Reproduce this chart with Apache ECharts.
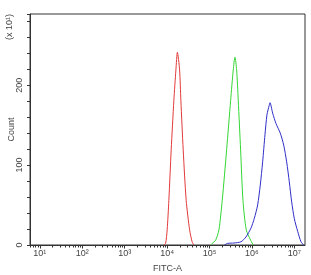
<!DOCTYPE html>
<html>
<head>
<meta charset="utf-8">
<script src="https://cdn.jsdelivr.net/npm/echarts@6/dist/echarts.min.js"></script>
<style>
  html, body { margin: 0; padding: 0; background: #fff; }
  #chart { width: 311px; height: 275px; }
</style>
</head>
<body>
<div id="chart"></div>
<script>
// x values are log10(FITC-A), y values are counts (x10)
const redX = [3.92, 3.965, 4.002, 4.042, 4.097, 4.160, 4.208, 4.243, 4.295, 4.325, 4.380, 4.450, 4.531, 4.59, 4.632];
const redY = [0, 2, 19, 56, 119, 181, 219, 241, 219, 181, 119, 56, 19, 4, 0];

const greenX = [5.04, 5.064, 5.144, 5.222, 5.300, 5.403, 5.498, 5.559, 5.599, 5.639, 5.677, 5.733, 5.788, 5.866, 5.969, 6.031];
const greenY = [0, 2, 6, 19, 56, 119, 181, 219, 235, 219, 181, 119, 56, 19, 6, 0];

const blueX = [5.35, 5.427, 5.575, 5.741, 5.858, 5.976, 6.054, 6.134, 6.196, 6.252, 6.307, 6.354, 6.408, 6.425,
    6.488, 6.566, 6.667, 6.748, 6.818, 6.880, 6.936, 6.998, 7.078, 7.156, 7.219];
const blueY = [0, 2, 2.5, 4, 10, 21, 33, 50, 75, 104, 138, 163, 175, 178,
    165, 152, 140, 125, 104, 79, 54, 33, 17, 4, 0];

const decades = [1, 2, 3, 4, 5, 6, 7];
const decadeLabels = ['10¹', '10²', '10³', '10⁴', '10⁵', '10⁶', '10⁷'];
const yLabels = [0, 100, 200];

const X_MIN = 0.77, X_MAX = 7.25;
const minorTicks = [];
for (let d = 0; d <= 7; d++) {
    for (let k = 2; k <= 9; k++) {
        const v = d + Math.log10(k);
        if (v > X_MIN && v < X_MAX) minorTicks.push(v);
    }
}

const pairs = (xs, ys) => xs.map((x, i) => [x, ys[i]]);

const txt = '#444';
const font = 'Liberation Sans, Arial, sans-serif';

const chart = echarts.init(document.getElementById('chart'), null, { renderer: 'canvas' });
chart.setOption({
    animation: false,
    grid: {
        left: 30, right: 6, top: 14, bottom: 30, containLabel: false, outerBoundsMode: 'none',
        show: true, borderColor: '#333', borderWidth: 1
    },
    xAxis: [
        {
            type: 'value', min: X_MIN, max: X_MAX,
            name: 'FITC-A', nameLocation: 'middle', nameGap: 19, nameMoveOverlap: false,
            nameTextStyle: { color: txt, fontSize: 9, fontFamily: font },
            axisLine: { show: true, lineStyle: { color: '#333', width: 1 } },
            axisTick: { show: true, length: 3.5, customValues: decades, lineStyle: { color: '#333' } },
            axisLabel: {
                customValues: decades, margin: 4, color: txt, fontSize: 9, fontFamily: font,
                formatter: v => decadeLabels[decades.indexOf(Math.round(v))] || ''
            },
            splitLine: { show: false }
        },
        {
            type: 'value', min: X_MIN, max: X_MAX, position: 'bottom',
            axisLine: { show: false },
            axisTick: { show: true, length: 2.5, customValues: minorTicks, lineStyle: { color: '#333' } },
            axisLabel: { show: false },
            splitLine: { show: false }
        }
    ],
    yAxis: {
        type: 'value', min: 0, max: 289, interval: 20,
        name: 'Count', nameLocation: 'middle', nameGap: 14, nameMoveOverlap: false,
        nameTextStyle: { color: txt, fontSize: 9, fontFamily: font },
        axisLine: { show: true, lineStyle: { color: '#333', width: 1 } },
        axisTick: { show: true, length: 3, lineStyle: { color: '#333' } },
        axisLabel: {
            rotate: 90, margin: 6, color: txt, fontSize: 9, fontFamily: font,
            formatter: v => yLabels.includes(v) ? String(v) : ''
        },
        splitLine: { show: false }
    },
    graphic: [{
        type: 'text', x: 5, y: 40, rotation: Math.PI / 2,
        style: { text: '(x 10¹)', fill: txt, fontSize: 9, fontFamily: font, textVerticalAlign: 'top' }
    }],
    series: [
        { type: 'line', data: pairs(redX, redY), showSymbol: false, smooth: 0.25,
          lineStyle: { color: '#e23a3a', width: 1 } },
        { type: 'line', data: pairs(greenX, greenY), showSymbol: false, smooth: 0.25,
          lineStyle: { color: '#33d633', width: 1 } },
        { type: 'line', data: pairs(blueX, blueY), showSymbol: false, smooth: 0.25,
          lineStyle: { color: '#2f2fc8', width: 1 } }
    ]
});
</script>
</body>
</html>
